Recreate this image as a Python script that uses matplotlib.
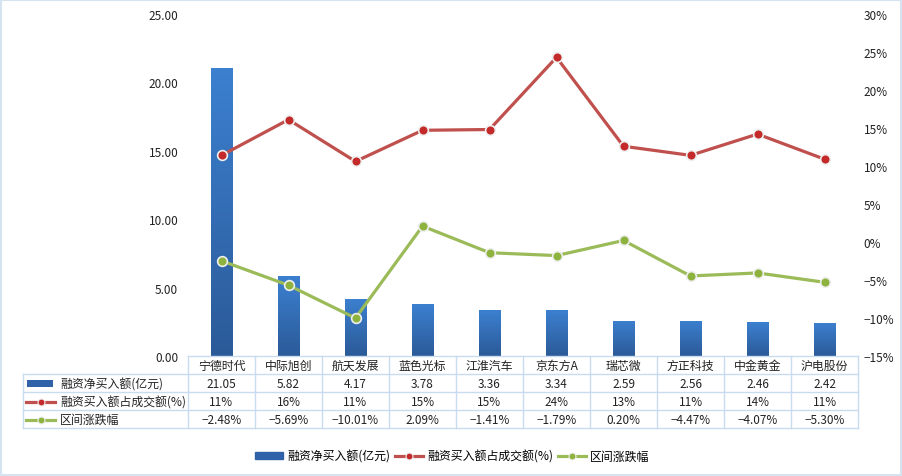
import matplotlib
matplotlib.use('Agg')
import matplotlib.pyplot as plt
import numpy as np
import matplotlib.transforms as mtrans
from matplotlib.lines import Line2D
from matplotlib.patches import Rectangle
from matplotlib.colors import LinearSegmentedColormap
from matplotlib.ticker import FuncFormatter, MultipleLocator

plt.rcParams['font.family'] = ['Noto Sans CJK SC', 'DejaVu Sans']
plt.rcParams['axes.unicode_minus'] = True

# ---- data ----
categories = ['宁德时代', '中际旭创', '航天发展', '蓝色光标', '江淮汽车',
              '京东方A', '瑞芯微', '方正科技', '中金黄金', '沪电股份']
net_buy = [21.05, 5.82, 4.17, 3.78, 3.36, 3.34, 2.59, 2.56, 2.46, 2.42]
buy_ratio = [11.4, 16.1, 10.6, 14.7, 14.8, 24.3, 12.6, 11.4, 14.2, 10.9]
price_change = [-2.48, -5.69, -10.01, 2.09, -1.41, -1.79, 0.20, -4.47, -4.07, -5.30]
series_names = ['融资净买入额(亿元)', '融资买入额占成交额(%)', '区间涨跌幅']

BLUE = '#3266ae'
RED = '#c0504d'
GREEN = '#9bbb59'
GRID = '#c9dbef'
FS = 8.5

W, H = 902, 477
fig = plt.figure(figsize=(W / 100, H / 100), dpi=100)
L, R, T, B = 188, 858, 15, 357
ax = fig.add_axes([L / W, 1 - B / H, (R - L) / W, (B - T) / H])
ax2 = ax.twinx()

x = np.arange(len(categories))

# bars with vertical gradient
cmap = LinearSegmentedColormap.from_list('g', ['#2b5a98', '#3c80d0'])
bars = ax.bar(x, net_buy, width=0.32, color=BLUE, zorder=2, linewidth=0)
grad = np.linspace(0, 1, 256).reshape(-1, 1)
for b in bars:
    x0, y0 = b.get_x(), b.get_y()
    w, h = b.get_width(), b.get_height()
    im = ax.imshow(grad, extent=[x0, x0 + w, y0, y0 + h], origin='lower',
                   aspect='auto', cmap=cmap, zorder=2.1)
    im.set_clip_path(b)

ax.set_xlim(-0.5, len(categories) - 0.5)
ax.set_ylim(0, 25)
ax.yaxis.set_major_locator(MultipleLocator(5))
ax.yaxis.set_major_formatter(FuncFormatter(lambda v, p: f'{v:.2f}'))
ax.set_xticks([])
ax.tick_params(axis='y', length=0, pad=7, labelsize=FS, labelcolor='#222222')

line_kw = dict(lw=2.3, marker='o', markersize=7, markeredgecolor='#eeeeee',
               markeredgewidth=1.2, zorder=3)
ax2.plot(x, buy_ratio, color=RED, markerfacecolor='#c42a2a', **line_kw)
ax2.plot(x, price_change, color=GREEN, markerfacecolor='#8db23e', **line_kw)
ax2.set_ylim(-15, 30)
ax2.yaxis.set_major_locator(MultipleLocator(5))
ax2.yaxis.set_major_formatter(FuncFormatter(lambda v, p: f'{v:.0f}%'.replace('-', '\u2212')))
ax2.tick_params(axis='y', length=0, pad=4, labelsize=FS, labelcolor='#222222')

for a in (ax, ax2):
    for s in a.spines.values():
        s.set_visible(False)

# ---- data table ----
pix = mtrans.Affine2D().scale(1 / W, -1 / H).translate(0, 1) + fig.transFigure
colT = mtrans.blended_transform_factory(ax.transData, pix)
rows = [357, 375, 393, 411, 429]
n = len(categories)
# horizontal lines
fig.add_artist(Line2D([L, R], [rows[0], rows[0]], transform=pix, color=GRID, lw=1))
for yy in rows[1:]:
    fig.add_artist(Line2D([23, R], [yy, yy], transform=pix, color=GRID, lw=1))
# vertical lines
fig.add_artist(Line2D([23, 23], [rows[1], rows[-1]], transform=pix, color=GRID, lw=1))
for i in range(n + 1):
    fig.add_artist(Line2D([i - 0.5, i - 0.5], [rows[0], rows[-1]], transform=colT,
                          color=GRID, lw=1))

def cy(r):
    return (rows[r] + rows[r + 1]) / 2 + 0.5

for i in range(n):
    fig.text(x[i], cy(0), categories[i], transform=colT, ha='center', va='center',
             fontsize=8.6, color='#222222')
    fig.text(x[i], cy(1), f'{net_buy[i]:.2f}', transform=colT, ha='center',
             va='center', fontsize=FS, color='#222222')
    fig.text(x[i], cy(2), f'{buy_ratio[i]:.0f}%', transform=colT, ha='center',
             va='center', fontsize=FS, color='#222222')
    fig.text(x[i], cy(3), f'{price_change[i]:.2f}%'.replace('-', '\u2212'),
             transform=colT, ha='center', va='center', fontsize=FS, color='#222222')

# row headers with legend keys
fig.add_artist(Rectangle((27, cy(1) - 3.5), 26, 7, transform=pix, color='#2f62a8', lw=0))
for r, col, fc in [(2, RED, '#c42a2a'), (3, GREEN, '#8db23e')]:
    fig.add_artist(Line2D([26, 55], [cy(r), cy(r)], transform=pix, color=col, lw=2.3))
    fig.add_artist(Line2D([40.5], [cy(r)], transform=pix, marker='o', markersize=5,
                          markerfacecolor=fc, markeredgecolor='#eeeeee',
                          markeredgewidth=0.8, color=col))
for r, name in enumerate(series_names, start=1):
    fig.text(60, cy(r), name, transform=pix, ha='left', va='center',
             fontsize=8.6, color='#222222')

# ---- bottom legend ----
handles = [Rectangle((0, 0), 1, 1, color='#2f62a8'),
           Line2D([], [], color=RED, lw=2.3, marker='o', markersize=5,
                  markerfacecolor='#c42a2a', markeredgecolor='#eeeeee', markeredgewidth=0.8),
           Line2D([], [], color=GREEN, lw=2.3, marker='o', markersize=5,
                  markerfacecolor='#8db23e', markeredgecolor='#eeeeee', markeredgewidth=0.8)]
leg = fig.legend(handles, series_names, loc='center', bbox_to_anchor=(452 / W, 1 - 457 / H),
                 ncol=3, frameon=False, fontsize=8.6, handlelength=2.4, handleheight=0.5,
                 handletextpad=0.3, columnspacing=0.4)

# chart border
fig.add_artist(Rectangle((0.5, 0.5), W - 1.5, H - 1.5, transform=pix, fill=False,
                         edgecolor='#d6e4f2', lw=1.5))

fig.savefig('out.png', dpi=100)
